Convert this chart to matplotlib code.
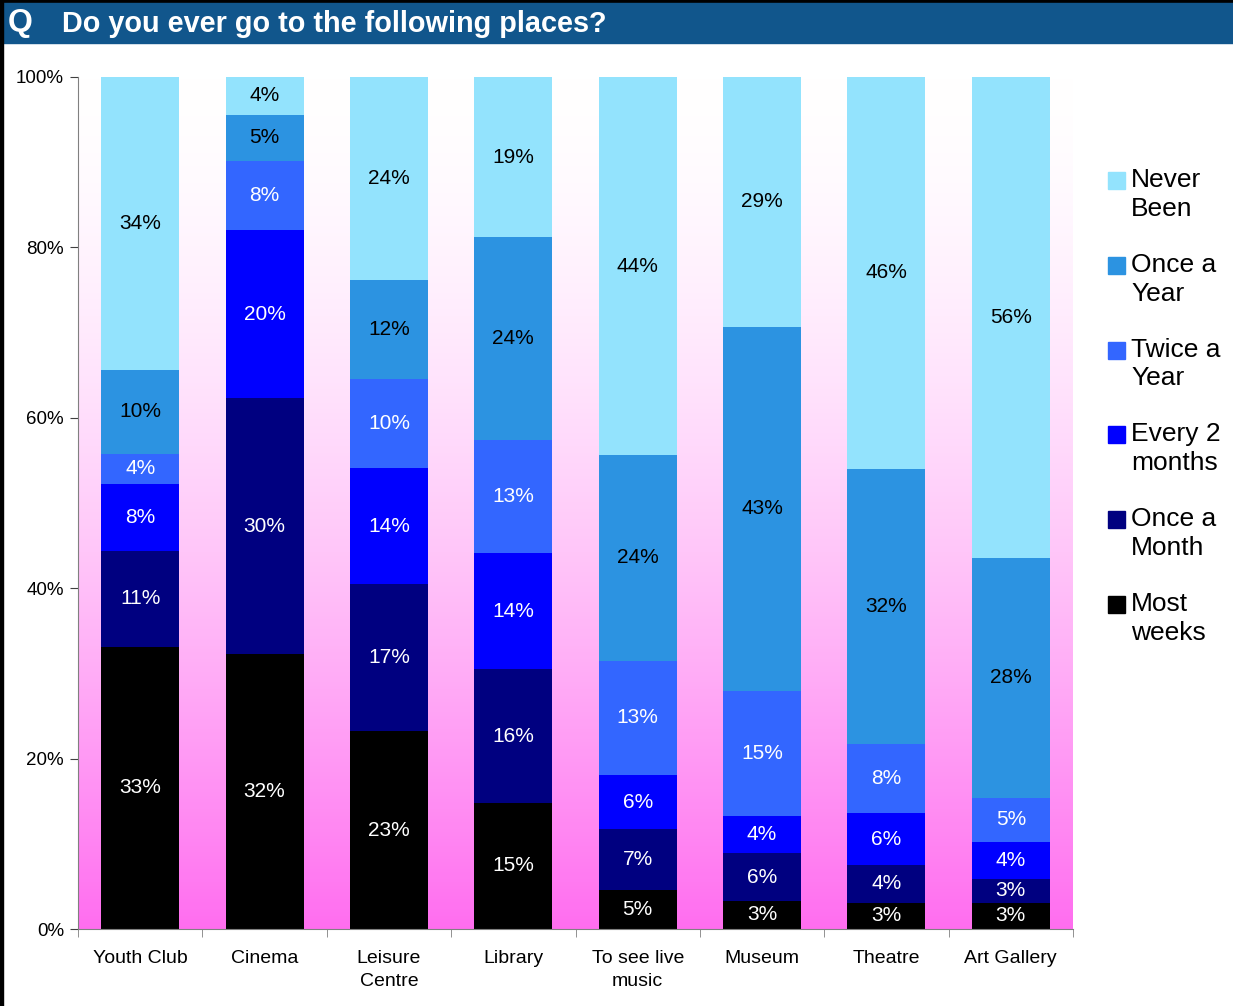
import numpy as np
from matplotlib import pyplot as plt
from matplotlib.patches import Rectangle

plt.rcParams['font.family'] = ['Liberation Sans', 'DejaVu Sans']

##################
# Data (percent, bottom -> top of each bar)

places = ['Youth Club', 'Cinema', 'Leisure\nCentre', 'Library', 'To see live\nmusic',
          'Museum', 'Theatre', 'Art Gallery']
series = ['Most\nweeks', 'Once a\nMonth', 'Every 2\nmonths', 'Twice a\nYear', 'Once a\nYear', 'Never\nBeen']

most_weeks = [33.1, 32.2, 23.2, 14.8, 4.6, 3.3, 3.1, 3.1]
once_month = [11.3, 29.9, 17.3, 15.7, 7.1, 5.6, 4.4, 2.8]
every_2_months = [7.8, 19.7, 13.6, 13.6, 6.4, 4.4, 6.1, 4.3]
twice_year = [3.6, 8.1, 10.4, 13.3, 13.4, 14.6, 8.1, 5.2]
once_year = [9.8, 5.4, 11.7, 23.8, 24.1, 42.8, 32.3, 28.1]
never_been = [34.4, 4.4, 23.8, 18.8, 44.4, 29.3, 46.0, 56.4]

colors = ['#000000', '#000080', '#0000FF', '#3366FF', '#2C93E1', '#93E3FD']
text_colors = ['white', 'white', 'white', 'white', 'black', 'black']

data = np.array([most_weeks, once_month, every_2_months, twice_year, once_year, never_been])
shares = data / data.sum(axis=0) * 100

W, H = 1233, 1006
fig = plt.figure(figsize=(W / 100, H / 100), dpi=100)

# title bar
fig.patches.append(Rectangle((0, 1 - 3 / H), 1, 3 / H, transform=fig.transFigure, color='black'))
fig.patches.append(Rectangle((0, 1 - 43 / H), 1, 40 / H, transform=fig.transFigure, color='#11568C'))
fig.patches.append(Rectangle((0, 0), 3 / W, 1, transform=fig.transFigure, color='black'))
fig.text(8 / W, 1 - 23 / H, 'Q', color='white', fontsize=23, fontweight='bold', va='center')
fig.text(62 / W, 1 - 24 / H, 'Do you ever go to the following places?', color='white',
         fontsize=20.8, fontweight='bold', va='center')

ax = fig.add_axes([78 / W, 1 - 929 / H, 995 / W, 852 / H])

# pink gradient background (white at top, pink at bottom)
grad = np.linspace(0, 1, 256).reshape(-1, 1) ** 1.6
top = np.array([1.0, 1.0, 1.0])
bottom = np.array([1.0, 0.43, 0.94])
img = top + (bottom - top) * grad[:, :, None]
ax.imshow(img, extent=[-0.5, 7.5, 0, 100], aspect='auto', zorder=0)

x = np.arange(len(places))
base = np.zeros(len(places))
for i in range(len(series)):
    ax.bar(x, shares[i], width=0.627, bottom=base, color=colors[i], zorder=2)
    for j in range(len(places)):
        ax.text(x[j], base[j] + shares[i, j] / 2, f'{data[i, j]:.0f}%', ha='center', va='center',
                color=text_colors[i], fontsize=15, zorder=3)
    base += shares[i]

ax.set_xlim(-0.5, 7.5)
ax.set_ylim(0, 100)
ax.set_yticks(np.arange(0, 101, 20))
ax.set_yticklabels([f'{v}%' for v in range(0, 101, 20)], fontsize=13.5)
ax.set_xticks(x)
ax.set_xticklabels(places, fontsize=14, linespacing=1.45)
ax.set_xticks(np.arange(-0.5, 8, 1), minor=True)
ax.tick_params(axis='x', which='major', length=0, pad=15)
ax.tick_params(axis='x', which='minor', length=6, color='#808080', direction='out')
ax.tick_params(axis='y', length=6, color='#404040', pad=4)
for s in ['top', 'right']:
    ax.spines[s].set_visible(False)
ax.spines['left'].set_color('#808080')
ax.spines['bottom'].set_color('#808080')

# legend on the right, top entry = Never Been
for k, name in enumerate(series[::-1]):
    yc = 180 + k * 84.8
    fig.patches.append(Rectangle((1108 / W, 1 - (yc + 9) / H), 17 / W, 17 / H,
                                 transform=fig.transFigure, color=colors[::-1][k]))
    fig.text(1131 / W, 1 - (yc - 12) / H, name, fontsize=19, va='top', ha='left', linespacing=1.25)

plt.savefig('out.png', dpi=100)
